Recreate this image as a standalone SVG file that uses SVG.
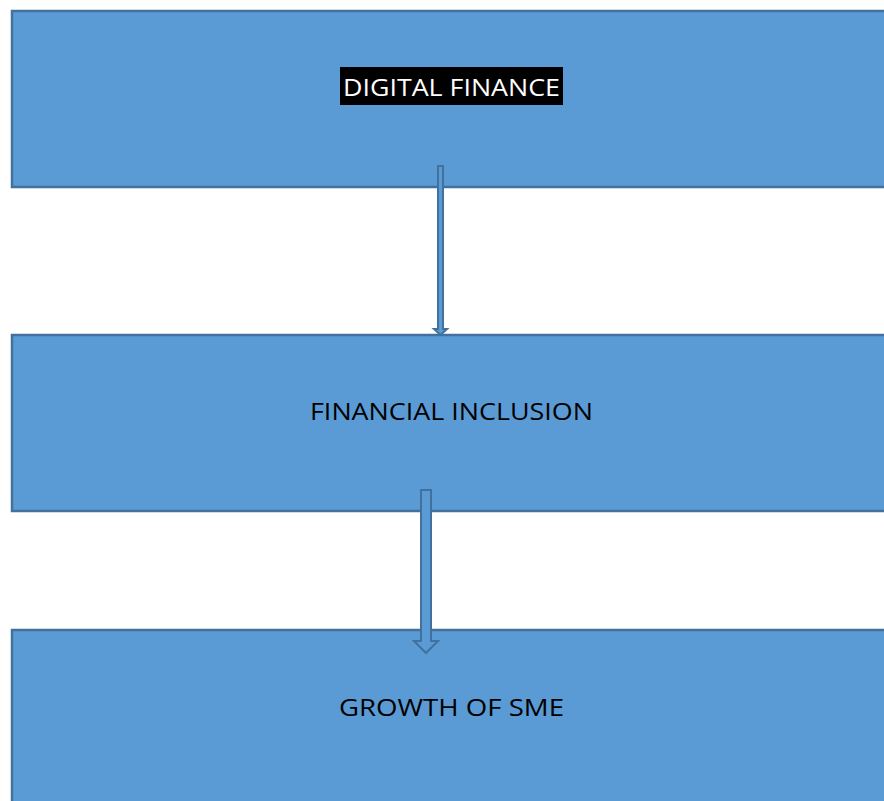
<svg xmlns="http://www.w3.org/2000/svg" width="884" height="801" viewBox="0 0 884 801">
<style>
.box{fill:#5B9BD5;stroke:#41719C;stroke-width:2.5}
.arr{fill:#5B9BD5;stroke:#41719C;stroke-width:2;stroke-linejoin:miter}
.lbl{font-family:"Open Sans","Liberation Sans",sans-serif;font-size:24px;text-anchor:middle}
</style>
<rect width="884" height="801" fill="#ffffff"/>
<g id="node-digital-finance">
<rect class="box" x="12" y="11" width="880" height="176"/>
<rect x="340" y="67" width="223" height="38" fill="#000000"/>
<text class="lbl" x="451.5" y="96" fill="#ffffff" textLength="217" lengthAdjust="spacingAndGlyphs">DIGITAL FINANCE</text>
</g>
<g id="node-financial-inclusion">
<rect class="box" x="12" y="335" width="880" height="176"/>
<text class="lbl" x="451.5" y="420" fill="#000000" textLength="283" lengthAdjust="spacingAndGlyphs">FINANCIAL INCLUSION</text>
</g>
<g id="node-growth-sme">
<rect class="box" x="12" y="630" width="880" height="190"/>
<text class="lbl" x="451.5" y="716" fill="#000000" textLength="225" lengthAdjust="spacingAndGlyphs">GROWTH OF SME</text>
</g>
<g id="connectors">
<polygon class="arr" points="438,166 443,166 443,329 447,329 440.5,335 434,329 438,329"/>
<polygon class="arr" points="421,490 431,490 431,641 438,641 426,653 414,641 421,641"/>
</g>
</svg>
